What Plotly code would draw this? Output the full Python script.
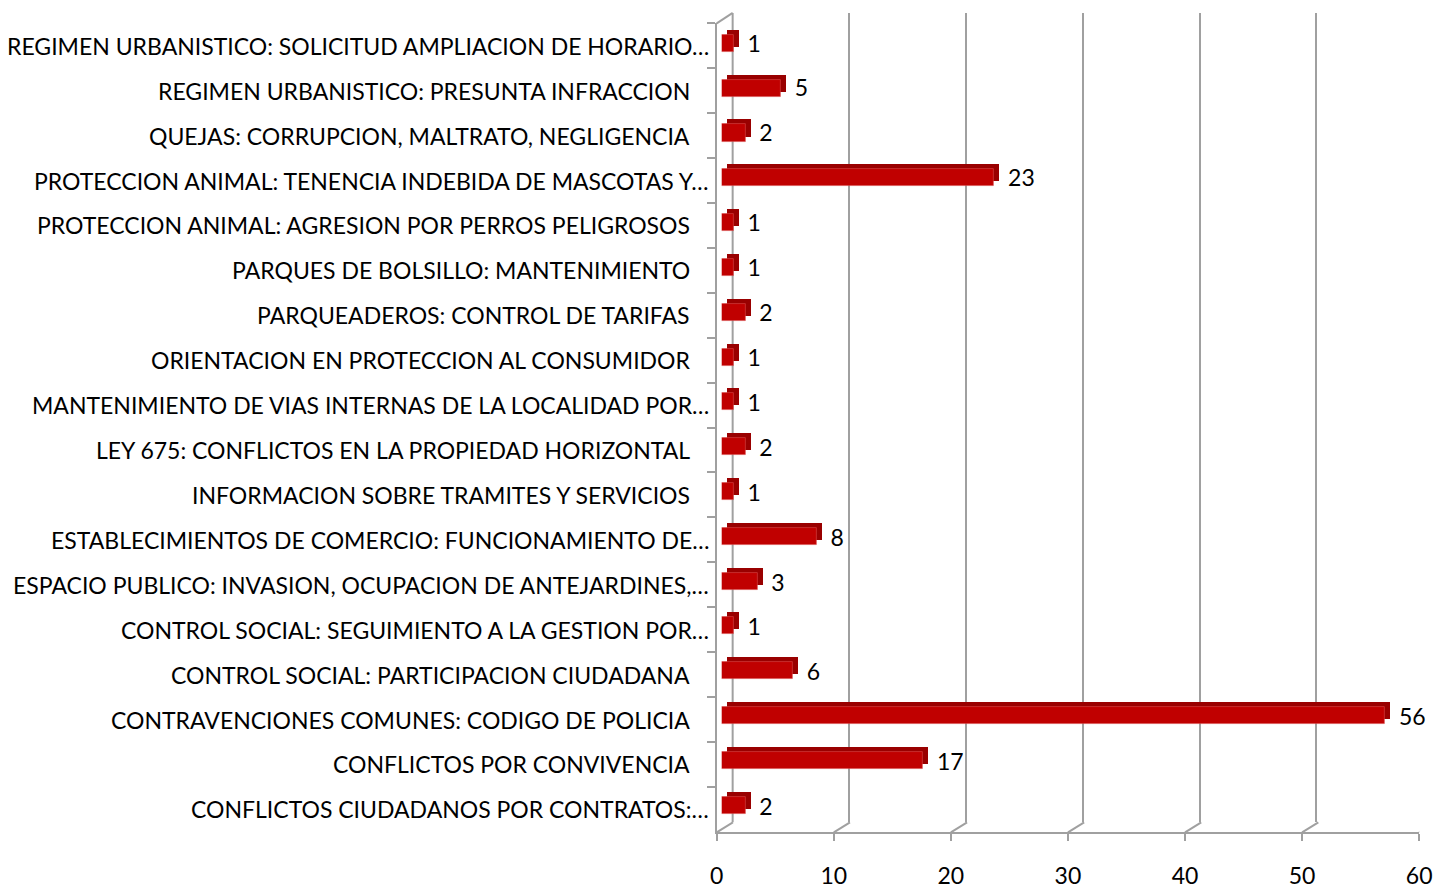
import plotly.graph_objects as go

W, H = 1446, 889

categories = [
    "CONFLICTOS CIUDADANOS POR CONTRATOS:…",
    "CONFLICTOS POR CONVIVENCIA",
    "CONTRAVENCIONES COMUNES: CODIGO DE POLICIA",
    "CONTROL SOCIAL: PARTICIPACION CIUDADANA",
    "CONTROL SOCIAL: SEGUIMIENTO A LA GESTION POR…",
    "ESPACIO PUBLICO: INVASION, OCUPACION DE ANTEJARDINES,…",
    "ESTABLECIMIENTOS DE COMERCIO: FUNCIONAMIENTO DE…",
    "INFORMACION SOBRE TRAMITES Y SERVICIOS",
    "LEY 675: CONFLICTOS EN LA PROPIEDAD HORIZONTAL",
    "MANTENIMIENTO DE VIAS INTERNAS DE LA LOCALIDAD POR…",
    "ORIENTACION EN PROTECCION AL CONSUMIDOR",
    "PARQUEADEROS: CONTROL DE TARIFAS",
    "PARQUES DE BOLSILLO: MANTENIMIENTO",
    "PROTECCION ANIMAL: AGRESION POR PERROS PELIGROSOS",
    "PROTECCION ANIMAL: TENENCIA INDEBIDA DE MASCOTAS Y…",
    "QUEJAS: CORRUPCION, MALTRATO, NEGLIGENCIA",
    "REGIMEN URBANISTICO: PRESUNTA INFRACCION",
    "REGIMEN URBANISTICO: SOLICITUD AMPLIACION DE HORARIO…",
]
values = [2, 17, 56, 6, 1, 3, 8, 1, 2, 1, 1, 2, 1, 1, 23, 2, 5, 1]
x_ticks = [0, 10, 20, 30, 40, 50, 60]

FONT = "Lato"
FS = 23
GRID = "#A0A0A0"
XMAX = 60


def fx(px):
    # compensate the slight horizontal squeeze seen in the capture
    return (px - 5) / 0.988


def xaxis_dom(a, b):
    """Domain for an axis spanning ref pixels a..b for 0..XMAX, clipped to the figure."""
    la, lb = fx(a), fx(b)
    end = min(lb, W)
    rng = XMAX * (end - la) / (lb - la)
    return [la / W, end / W], [0, rng]


def dy(top, bottom):
    return [1 - bottom / H, 1 - top / H]


fig = go.Figure()

fig.add_trace(go.Scatter(x=[None], y=[None], xaxis="x", yaxis="y",
                         showlegend=False, hoverinfo="skip"))
fig.add_trace(go.Bar(
    x=values, y=categories, orientation="h", xaxis="x2", yaxis="y2",
    marker=dict(color="#990000", line=dict(width=0)), width=0.38,
    hoverinfo="skip", showlegend=False,
))
fig.add_trace(go.Bar(
    x=values, y=categories, orientation="h", xaxis="x3", yaxis="y3",
    marker=dict(color="#C00000", line=dict(color="#D84A4A", width=0.6)), width=0.38,
    showlegend=False,
))
fig.add_trace(go.Scatter(x=[None], y=[None], xaxis="x4", yaxis="y4",
                         showlegend=False, hoverinfo="skip"))
fig.add_trace(go.Scatter(
    x=values, y=categories, mode="text", text=[str(v) for v in values],
    textposition="middle right", xaxis="x5", yaxis="y4",
    textfont=dict(family=FONT, size=FS, color="#000000"),
    cliponaxis=False, showlegend=False, hoverinfo="skip",
))

cat_axis = dict(type="category", categoryorder="array", categoryarray=categories,
                range=[-0.5, len(categories) - 0.5])
hidden = dict(visible=False, showgrid=False, zeroline=False)

# back wall spans to the figure edge so its last gridline sits at the edge
d1, r1 = [fx(732) / W, 1.0], [0, XMAX]
d2, r2 = xaxis_dom(726, 1438)
d3, r3 = xaxis_dom(721, 1433)
d4, r4 = [fx(716) / W, 1432 / W], [0, XMAX]
d5, r5 = xaxis_dom(735, 1447)

layout = dict(
    width=W, height=H,
    margin=dict(l=0, r=0, t=0, b=0),
    paper_bgcolor="white", plot_bgcolor="rgba(0,0,0,0)",
    showlegend=False,
    bargap=0,
    # back wall gridlines
    xaxis=dict(domain=d1, range=r1, anchor="y",
               tickmode="array", tickvals=x_ticks, showticklabels=False,
               showgrid=True, gridcolor=GRID, gridwidth=2, zeroline=False,
               showline=False, ticks=""),
    yaxis=dict(domain=dy(13, 827), range=[0, 1], anchor="x", **hidden),
    # depth faces
    xaxis2=dict(domain=d2, range=r2, anchor="y2", **hidden),
    yaxis2=dict(domain=dy(16, 827), anchor="x2", **cat_axis, **hidden),
    # front faces
    xaxis3=dict(domain=d3, range=r3, anchor="y3", **hidden),
    yaxis3=dict(domain=dy(21, 832), anchor="x3", **cat_axis, **hidden),
    # visible front value axis
    xaxis4=dict(domain=d4, range=r4, anchor="y4",
                tickmode="array", tickvals=x_ticks, ticktext=[str(t) for t in x_ticks],
                showline=True, linecolor=GRID, linewidth=2,
                ticks="outside", ticklen=7, tickcolor=GRID, tickwidth=2,
                ticklabelstandoff=16,
                tickfont=dict(family=FONT, size=FS, color="#000000"),
                showgrid=False, zeroline=False),
    # visible category axis
    yaxis4=dict(domain=dy(23.5, 836.5), anchor="x4", **cat_axis,
                showline=True, linecolor=GRID, linewidth=2,
                ticks="outside", ticklen=8, tickcolor=GRID, tickwidth=2,
                tickson="boundaries", showticklabels=False,
                showgrid=False, zeroline=False),
    # data label axis
    xaxis5=dict(domain=d5, range=r5, anchor="y4", **hidden),
)
fig.update_layout(**layout)

annotations = []
for c in categories:
    trunc = c.endswith("…")
    annotations.append(dict(
        text=c, xref="paper", yref="y4", x=fx(710 if trunc else 691) / W, y=c,
        xanchor="right", yanchor="middle", showarrow=False,
        font=dict(family=FONT, size=FS, color="#000000"),
    ))
fig.update_layout(annotations=annotations)

shapes = []
for t in x_ticks:
    shapes.append(dict(
        type="line", xref="x4", yref="paper", xsizemode="pixel", xanchor=t,
        x0=0, x1=16.2, y0=1 - 837 / H, y1=1 - 827 / H,
        line=dict(color=GRID, width=2),
    ))
shapes.append(dict(type="line", xref="paper", yref="paper",
                   x0=fx(716) / W, x1=fx(732) / W, y0=1 - 23.5 / H, y1=1 - 13 / H,
                   line=dict(color=GRID, width=2)))
shapes.append(dict(type="line", xref="paper", yref="paper",
                   x0=fx(732) / W, x1=fx(732) / W, y0=1 - 827 / H, y1=1 - 13 / H,
                   line=dict(color=GRID, width=2), layer="below"))
fig.update_layout(shapes=shapes)

post = (
    "document.documentElement.style.margin='0';"
    "document.documentElement.style.overflow='hidden';"
    "document.body.style.margin='0';"
    "document.body.style.overflow='hidden';"
)

fig.write_html("out.html", config={"displayModeBar": False}, post_script=post)
